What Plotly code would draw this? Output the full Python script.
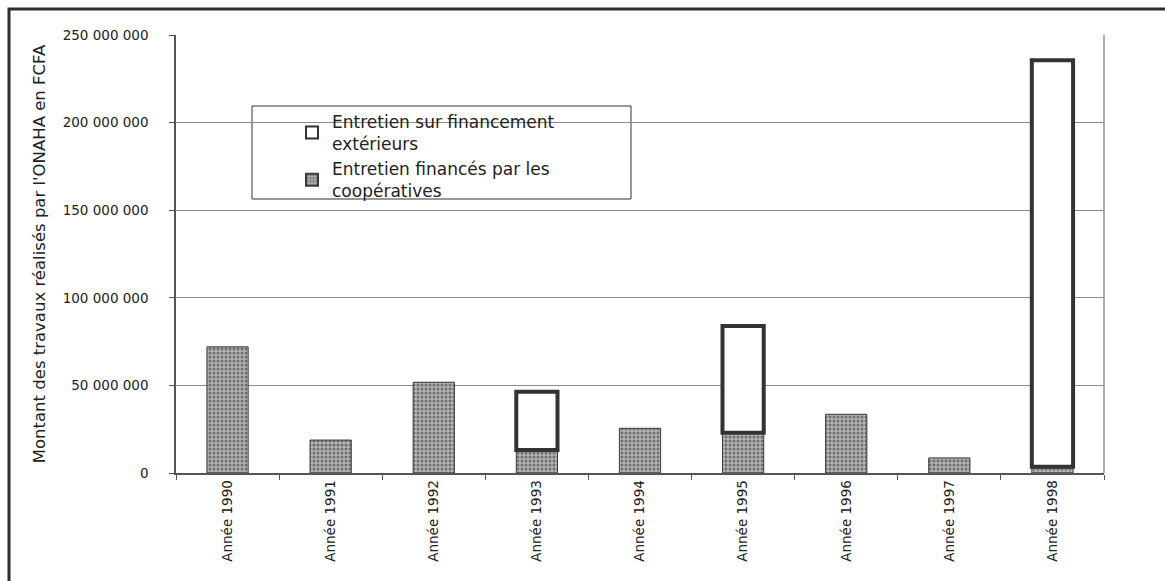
import plotly.graph_objects as go

# Montants annuels (FCFA)
annees = ["Année 1990", "Année 1991", "Année 1992", "Année 1993", "Année 1994",
          "Année 1995", "Année 1996", "Année 1997", "Année 1998"]
cooperatives = [72_000_000, 18_800_000, 51_800_000, 13_100_000, 25_500_000,
                23_000_000, 33_500_000, 8_600_000, 3_600_000]
exterieurs = [0, 0, 0, 33_300_000, 0, 60_900_000, 0, 0, 232_000_000]

W, H = 1165, 581
ML, MR, MT, MB = 176, 61, 35, 108
PW, PH = W - ML - MR, H - MT - MB

FONT = "DejaVu Sans"


def px_x(px):
    return (px - ML) / PW


def px_y(py):
    return (H - MB - py) / PH


fig = go.Figure()

fig.add_trace(go.Bar(
    x=annees, y=cooperatives,
    name="Entretien financés par les<br>coopératives",
    marker=dict(
        color="#a9a9a9",
        line=dict(color="#3a3a3a", width=1),
        pattern=dict(shape=".", fgcolor="#6e6e6e", bgcolor="#b4b4b4",
                     size=4, solidity=0.45, fillmode="replace"),
    ),
))

fig.add_trace(go.Bar(
    x=annees, y=[v if v > 0 else None for v in exterieurs],
    base=cooperatives,
    name="Entretien sur financement<br>extérieurs",
    marker=dict(color="#ffffff", line=dict(color="#333333", width=4)),
))

# cadre extérieur du graphique
fig.add_shape(type="rect", xref="paper", yref="paper",
              x0=px_x(9), x1=px_x(1200), y0=px_y(620), y1=px_y(9),
              line=dict(color="#2e2e2e", width=3), fillcolor="rgba(0,0,0,0)",
              layer="above")

# encadré de la légende
fig.add_shape(type="rect", xref="paper", yref="paper",
              x0=px_x(252), x1=px_x(631), y0=px_y(199), y1=px_y(106),
              line=dict(color="#333333", width=1), fillcolor="#ffffff",
              layer="below")

fig.update_layout(
    width=W, height=H,
    margin=dict(l=ML, r=MR, t=MT, b=MB),
    paper_bgcolor="#ffffff", plot_bgcolor="#ffffff",
    barmode="overlay", bargap=0.6,
    separators=", ",
    font=dict(family=FONT, color="#222222"),
    showlegend=True,
    legend=dict(
        x=px_x(292), y=px_y(104), xanchor="left", yanchor="top",
        traceorder="reversed", bgcolor="rgba(0,0,0,0)", borderwidth=0,
        font=dict(family=FONT, size=17, color="#222222"),
        itemsizing="constant", tracegroupgap=0,
    ),
    xaxis=dict(
        type="category", tickson="boundaries", ticks="outside", ticklen=5,
        tickcolor="#555555", tickangle=-90,
        tickfont=dict(family=FONT, size=13.5, color="#222222"),
        showline=True, linecolor="#555555", linewidth=1.5,
        showgrid=False, range=[-0.5, 8.5],
    ),
    yaxis=dict(
        range=[0, 250_000_000], dtick=50_000_000, tickformat=",d",
        ticks="outside", ticklen=5, tickcolor="#555555",
        tickfont=dict(family=FONT, size=13.5, color="#222222"),
        ticklabelstandoff=18,
        showline=True, linecolor="#555555", linewidth=1.5,
        showgrid=True, gridcolor="#8c8c8c", gridwidth=1,
        zeroline=False, mirror=False,
        title=dict(text="Montant des travaux réalisés par l'ONAHA en FCFA",
                   font=dict(family=FONT, size=16.5, color="#222222"),
                   standoff=13),
    ),
)

# bord droit de la zone de tracé
fig.add_shape(type="line", xref="paper", yref="paper",
              x0=1, x1=1, y0=0, y1=1,
              line=dict(color="#9a8c8c", width=1.5))

fig.write_html("out.html")
